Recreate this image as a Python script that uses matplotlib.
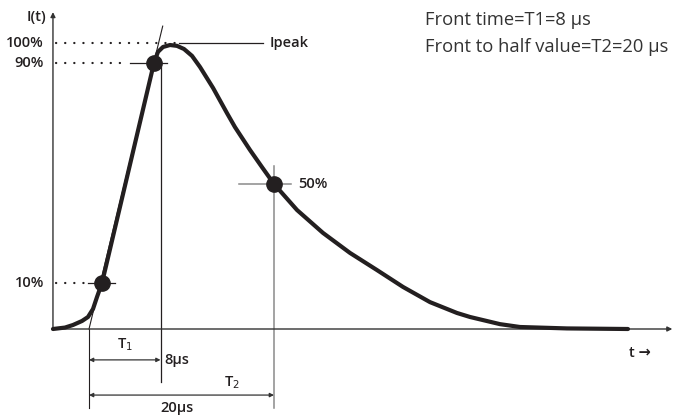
import numpy as np
import matplotlib
matplotlib.use("Agg")
import matplotlib.pyplot as plt

# Lightning impulse current waveform (schematic), time in us, current in %
t_curve = [-3.96, -2.64, -1.76, -0.77, -0.11, 0.44, 0.88, 1.43, 7.14, 7.58, 8.13,
           8.90, 9.67, 10.44, 11.32, 12.20, 13.63, 15.16, 16.04, 17.69, 19.01,
           20.33, 22.86, 25.71, 28.68, 31.65, 34.51, 37.47, 40.44, 41.87, 45.16,
           47.36, 52.53, 59.23]
i_curve = [0.0, 0.5, 1.4, 2.8, 4.2, 7.0, 11.2, 16.1, 93.0, 96.9, 98.6,
           99.3, 99.0, 97.9, 95.5, 91.6, 84.3, 75.5, 70.6, 62.6, 56.6,
           50.7, 41.6, 33.6, 26.6, 20.6, 14.7, 9.4, 5.6, 4.2, 1.7,
           0.7, 0.2, 0.0]

level_labels = ["10%", "90%", "100%"]
level_heights = [16.1, 93.0, 100.0]

t10, t90, t50 = 1.43, 7.14, 20.33
i10, i90, i50 = 16.1, 93.0, 50.7
t1_line = 7.86          # where the 8 us marker is drawn

info_lines = ["Front time=T1=8 \u00b5s", "Front to half value=T2=20 \u00b5s"]

INK = "#231f20"
GREY = "#8a8a8a"
plt.rcParams['font.family'] = ['Open Sans', 'DejaVu Sans']

fig = plt.figure(figsize=(6.74, 4.17), dpi=100)
ax = fig.add_axes([0, 0, 1, 1])
ax.set_xlim(-89 / 9.1, (674 - 89) / 9.1)
ax.set_ylim(-88 / 2.86, 329 / 2.86)
ax.axis("off")

x0 = t_curve[0]
# axes with arrows
ax.annotate("", xy=(x0, 110.8), xytext=(x0, 0),
            arrowprops=dict(arrowstyle="-|>", color="#333333", lw=1.0,
                            mutation_scale=7, shrinkA=0, shrinkB=0))
ax.annotate("", xy=(64.1, 0), xytext=(x0, 0),
            arrowprops=dict(arrowstyle="-|>", color="#333333", lw=1.0,
                            mutation_scale=7, shrinkA=0, shrinkB=0))

# dotted level guides
dots = dict(color=INK, lw=1.6, linestyle=(0, (0.1, 4)), dash_capstyle="round")
ax.plot([x0 + 0.3, 9.9], [100, 100], **dots)
ax.plot([x0 + 0.3, 4.3], [i90, i90], **dots)
ax.plot([x0 + 0.3, -0.3], [i10, i10], **dots)

# solid crosshair pieces
ax.plot([9.9, 19.1], [100, 100], color=INK, lw=0.9)
ax.plot([4.5, 8.57], [i90, i90], color=INK, lw=0.9)
ax.plot([-0.11, 2.86], [i10, i10], color=INK, lw=0.9)
ax.plot([16.5, 22.2], [i50, i50], color=GREY, lw=1.1)
ax.plot([t50, t50], [57.0, -27.6], color=GREY, lw=1.1)

# front tangent and time markers
ax.plot([0.0, 8.1], [0.0, 105.9], color=INK, lw=0.8)
ax.plot([0.0, 0.0], [0.0, -27.6], color=INK, lw=0.8)
ax.plot([t1_line, t1_line], [93.4, -18.5], color=INK, lw=0.9)

arrow = dict(arrowstyle="<|-|>", color="#333333", lw=0.9,
             mutation_scale=6, shrinkA=0, shrinkB=0)
ax.annotate("", xy=(t1_line, -10.8), xytext=(0.0, -10.8), arrowprops=arrow)
ax.annotate("", xy=(t50, -23.1), xytext=(0.0, -23.1), arrowprops=arrow)

# waveform
ax.plot(t_curve, i_curve, color=INK, lw=3.0, solid_joinstyle="round",
        solid_capstyle="round", zorder=5)
ax.plot([t10, t90, t50], [i10, i90, i50], "o", color=INK, ms=11, zorder=6)

# labels
lab = dict(color=INK, fontsize=10.5, fontweight="semibold")
for name, h in zip(level_labels, level_heights):
    ax.text(-4.95, h, name, ha="right", va="center", **lab)
ax.text(-5.82, 109.1, "I(t)", ha="center", va="center", **lab)
ax.text(19.9, 100, "Ipeak", ha="left", va="center", **lab)
ax.text(23.0, i50, "50%", ha="left", va="center", **lab)
ax.text(3.96, -5.6, "T$_1$", ha="center", va="center", **lab)
ax.text(8.24, -10.8, "8\u00b5s", ha="left", va="center", **lab)
ax.text(15.7, -18.9, "T$_2$", ha="center", va="center", **lab)
ax.text(9.67, -27.6, "20\u00b5s", ha="center", va="center", **lab)
ax.text(60.5, -8.4, "t \u2192", ha="center", va="center", **lab)

for k, line in enumerate(info_lines):
    ax.text(36.9, 108.0 - 9.4 * k, line, ha="left", va="center",
            color="#333333", fontsize=13.2)

fig.savefig("out.png", dpi=100)
